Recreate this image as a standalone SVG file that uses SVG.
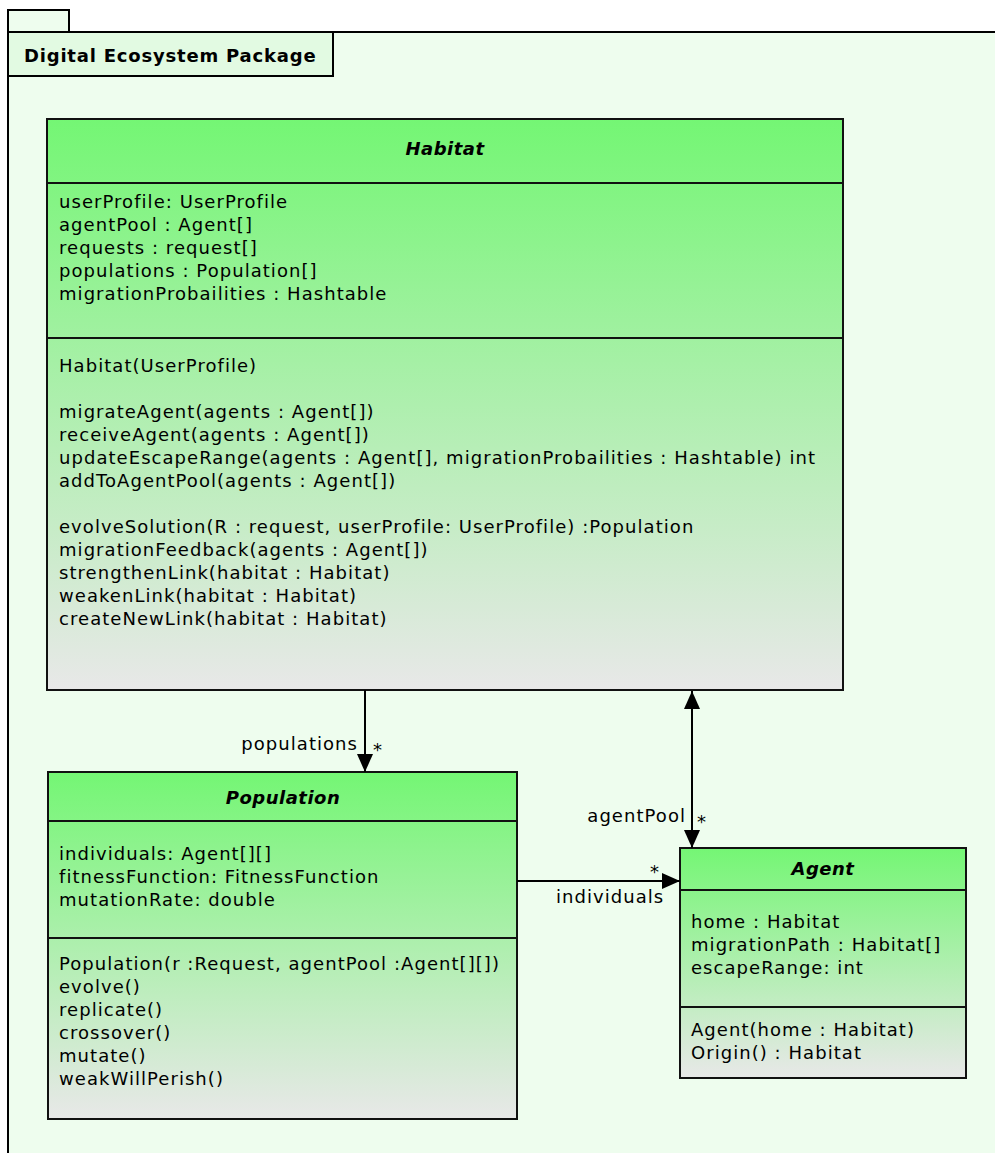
<svg xmlns="http://www.w3.org/2000/svg" width="995" height="1153" viewBox="0 0 995 1153">
<defs>
<linearGradient id="g" x1="0" y1="0" x2="0" y2="1">
<stop offset="0" stop-color="#74f674"/>
<stop offset="1" stop-color="#e8e8e8"/>
</linearGradient>
<marker id="ah" viewBox="0 0 18 16" refX="18" refY="8" markerWidth="18" markerHeight="16" markerUnits="userSpaceOnUse" orient="auto-start-reverse">
<path d="M0,0 L18,8 L0,16 Z" fill="#000"/>
</marker>
<style>
.box{fill:url(#g);stroke:#111;stroke-width:2}
.div{stroke:#111;stroke-width:2}
.t{font-family:"DejaVu Sans","Liberation Sans",Arial,sans-serif;font-size:18px;letter-spacing:1.05px;fill:#000}
.title{font-family:"DejaVu Sans","Liberation Sans",Arial,sans-serif;font-size:18px;font-weight:bold;font-style:italic;letter-spacing:0.5px;fill:#000;text-anchor:middle}
.pkg{font-family:"DejaVu Sans","Liberation Sans",Arial,sans-serif;font-size:18px;font-weight:bold;letter-spacing:0.8px;fill:#000}
.lbl{font-family:"DejaVu Sans","Liberation Sans",Arial,sans-serif;font-size:18px;letter-spacing:1.05px;fill:#000}
.conn{stroke:#000;stroke-width:2;fill:none}
</style>
</defs>
<rect x="0" y="0" width="995" height="1153" fill="#ffffff"/>
<g id="package">
<rect x="8" y="10" width="61" height="22" fill="#eefdee" stroke="#000" stroke-width="2"/>
<rect x="8" y="32" width="1000" height="1140" fill="#eefdee" stroke="#000" stroke-width="2"/>
<rect x="8" y="32" width="325" height="44" fill="#e2fae2" stroke="#000" stroke-width="2"/>
<text x="24" y="62" class="pkg">Digital Ecosystem Package</text>
</g>
<g id="Habitat">
<rect x="47" y="119" width="796" height="571" class="box"/>
<line x1="47" y1="183" x2="843" y2="183" class="div"/>
<line x1="47" y1="338" x2="843" y2="338" class="div"/>
<text x="445" y="155" class="title">Habitat</text>
<text class="t" x="59" y="208">userProfile: UserProfile</text>
<text class="t" x="59" y="231">agentPool : Agent[]</text>
<text class="t" x="59" y="254">requests : request[]</text>
<text class="t" x="59" y="277">populations : Population[]</text>
<text class="t" x="59" y="300">migrationProbailities : Hashtable</text>
<text class="t" x="59" y="372">Habitat(UserProfile)</text>
<text class="t" x="59" y="418">migrateAgent(agents : Agent[])</text>
<text class="t" x="59" y="441">receiveAgent(agents : Agent[])</text>
<text class="t" x="59" y="464">updateEscapeRange(agents : Agent[], migrationProbailities : Hashtable) int</text>
<text class="t" x="59" y="487">addToAgentPool(agents : Agent[])</text>
<text class="t" x="59" y="533">evolveSolution(R : request, userProfile: UserProfile) :Population</text>
<text class="t" x="59" y="556">migrationFeedback(agents : Agent[])</text>
<text class="t" x="59" y="579">strengthenLink(habitat : Habitat)</text>
<text class="t" x="59" y="602">weakenLink(habitat : Habitat)</text>
<text class="t" x="59" y="625">createNewLink(habitat : Habitat)</text>
</g>
<g id="Population">
<rect x="48" y="772" width="469" height="347" class="box"/>
<line x1="48" y1="821" x2="517" y2="821" class="div"/>
<line x1="48" y1="938" x2="517" y2="938" class="div"/>
<text x="283" y="804" class="title">Population</text>
<text class="t" x="59" y="860">individuals: Agent[][]</text>
<text class="t" x="59" y="883">fitnessFunction: FitnessFunction</text>
<text class="t" x="59" y="906">mutationRate: double</text>
<text class="t" x="59" y="970">Population(r :Request, agentPool :Agent[][])</text>
<text class="t" x="59" y="993">evolve()</text>
<text class="t" x="59" y="1016">replicate()</text>
<text class="t" x="59" y="1039">crossover()</text>
<text class="t" x="59" y="1062">mutate()</text>
<text class="t" x="59" y="1085">weakWillPerish()</text>
</g>
<g id="Agent">
<rect x="680" y="848" width="286" height="230" class="box"/>
<line x1="680" y1="890" x2="966" y2="890" class="div"/>
<line x1="680" y1="1007" x2="966" y2="1007" class="div"/>
<text x="823" y="875" class="title">Agent</text>
<text class="t" x="691" y="928">home : Habitat</text>
<text class="t" x="691" y="951">migrationPath : Habitat[]</text>
<text class="t" x="691" y="974">escapeRange: int</text>
<text class="t" x="691" y="1036">Agent(home : Habitat)</text>
<text class="t" x="691" y="1059">Origin() : Habitat</text>
</g>
<g id="connectors">
<line x1="365" y1="690" x2="365" y2="772" class="conn" marker-end="url(#ah)"/>
<text class="lbl" x="358" y="750" text-anchor="end">populations</text>
<text class="lbl" x="373" y="756">*</text>
<line x1="692" y1="691" x2="692" y2="848" class="conn" marker-start="url(#ah)" marker-end="url(#ah)"/>
<text class="lbl" x="686" y="822" text-anchor="end">agentPool</text>
<text class="lbl" x="697" y="828">*</text>
<line x1="517" y1="881" x2="680" y2="881" class="conn" marker-end="url(#ah)"/>
<text class="lbl" x="650" y="878">*</text>
<text class="lbl" x="556" y="903">individuals</text>
</g>
</svg>
